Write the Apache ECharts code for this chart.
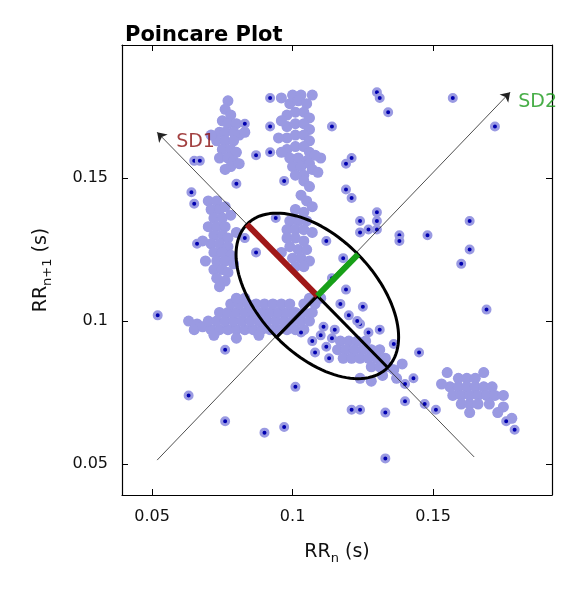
<!DOCTYPE html>
<html><head><meta charset="utf-8">
<script src="https://cdn.jsdelivr.net/npm/echarts@6/dist/echarts.min.js"></script>
<style>html,body{margin:0;padding:0;background:#fff}#c{width:580px;height:590px}</style>
</head><body><div id="c"></div>
<script>
const xTicks = [0.05, 0.1, 0.15];
const yTicks = [0.05, 0.1, 0.15];
const clusterA = [[0.077,0.177],[0.076,0.174],[0.078,0.172],[0.075,0.170],[0.077,0.169],[0.080,0.169],[0.074,0.166],[0.076,0.166],[0.079,0.166],[0.081,0.165],[0.073,0.163],[0.076,0.163],[0.079,0.163],[0.075,0.160],[0.078,0.160],[0.080,0.159],[0.074,0.157],[0.077,0.157],[0.079,0.156],[0.071,0.165],[0.083,0.166],[0.078,0.154],[0.081,0.155],[0.076,0.153]];
const clusterB = [[0.100,0.179],[0.103,0.179],[0.099,0.176],[0.102,0.177],[0.105,0.176],[0.098,0.172],[0.101,0.173],[0.104,0.173],[0.106,0.171],[0.098,0.168],[0.101,0.169],[0.104,0.169],[0.106,0.167],[0.098,0.164],[0.101,0.165],[0.104,0.165],[0.106,0.163],[0.098,0.160],[0.101,0.161],[0.104,0.161],[0.106,0.159],[0.099,0.157],[0.102,0.157],[0.105,0.156],[0.100,0.154],[0.103,0.154],[0.106,0.155],[0.096,0.178],[0.107,0.179],[0.096,0.170],[0.110,0.157],[0.108,0.158],[0.095,0.164],[0.096,0.159],[0.107,0.153],[0.109,0.152],[0.101,0.151],[0.104,0.151]];
const clusterC = [[0.070,0.142],[0.073,0.142],[0.071,0.139],[0.074,0.139],[0.076,0.140],[0.072,0.136],[0.075,0.136],[0.078,0.137],[0.070,0.133],[0.073,0.133],[0.076,0.133],[0.072,0.130],[0.075,0.130],[0.077,0.129],[0.071,0.127],[0.074,0.127],[0.077,0.126],[0.072,0.124],[0.075,0.124],[0.078,0.123],[0.073,0.121],[0.076,0.121],[0.072,0.118],[0.075,0.118],[0.077,0.117],[0.073,0.115],[0.076,0.114],[0.074,0.112],[0.068,0.128],[0.069,0.121],[0.080,0.131],[0.079,0.120]];
const clusterD = [[0.104,0.149],[0.106,0.147],[0.103,0.144],[0.105,0.142],[0.107,0.140],[0.101,0.139],[0.104,0.138],[0.099,0.135],[0.102,0.135],[0.105,0.135],[0.098,0.132],[0.101,0.132],[0.104,0.132],[0.107,0.131],[0.098,0.129],[0.101,0.129],[0.104,0.128],[0.099,0.126],[0.102,0.125],[0.105,0.125],[0.100,0.122],[0.103,0.122],[0.106,0.121],[0.101,0.119],[0.104,0.119],[0.096,0.124]];
const clusterE = [[0.063,0.100],[0.066,0.099],[0.065,0.097],[0.068,0.098],
[0.071,0.097],[0.074,0.097],[0.077,0.097],[0.080,0.097],[0.083,0.097],[0.086,0.097],[0.089,0.097],[0.092,0.097],[0.095,0.097],[0.098,0.097],[0.101,0.097],[0.104,0.097],
[0.070,0.100],[0.073,0.100],[0.076,0.100],[0.079,0.100],[0.082,0.100],[0.085,0.100],[0.088,0.100],[0.091,0.100],[0.094,0.100],[0.097,0.100],[0.100,0.100],[0.103,0.100],[0.106,0.100],
[0.074,0.103],[0.077,0.103],[0.080,0.103],[0.083,0.103],[0.086,0.103],[0.089,0.103],[0.092,0.103],[0.095,0.103],[0.098,0.103],[0.101,0.103],[0.104,0.103],[0.107,0.103],
[0.078,0.106],[0.081,0.106],[0.084,0.106],[0.087,0.106],[0.090,0.106],[0.093,0.106],[0.096,0.106],[0.099,0.106],[0.104,0.106],[0.108,0.106],
[0.080,0.108],[0.083,0.108],[0.106,0.108],[0.110,0.108],[0.072,0.095],[0.080,0.094],[0.088,0.095]];
const clusterF = [[0.117,0.093],[0.120,0.093],[0.123,0.093],[0.126,0.093],[0.116,0.090],[0.119,0.090],[0.122,0.090],[0.125,0.090],[0.128,0.090],[0.131,0.090],[0.118,0.087],[0.121,0.087],[0.124,0.087],[0.127,0.087],[0.130,0.087],[0.133,0.087],[0.128,0.084],[0.131,0.084],[0.134,0.084],[0.136,0.083],[0.139,0.085],[0.137,0.080],[0.132,0.081],[0.128,0.079],[0.124,0.080]];
const clusterG = [[0.159,0.080],[0.162,0.080],[0.165,0.080],[0.156,0.077],[0.159,0.077],[0.162,0.077],[0.165,0.077],[0.168,0.077],[0.171,0.077],[0.157,0.074],[0.160,0.074],[0.163,0.074],[0.166,0.074],[0.169,0.074],[0.172,0.074],[0.175,0.074],[0.160,0.071],[0.163,0.071],[0.166,0.071],[0.170,0.071],[0.153,0.078],[0.155,0.082],[0.168,0.082],[0.175,0.070],[0.173,0.068],[0.178,0.066],[0.163,0.068]];
const outliers = [[0.130,0.180],[0.131,0.178],[0.134,0.173],[0.157,0.178],[0.172,0.168],[0.121,0.157],[0.119,0.155],[0.119,0.146],[0.121,0.143],[0.130,0.138],[0.124,0.135],[0.130,0.135],[0.130,0.132],[0.127,0.132],[0.124,0.131],[0.138,0.130],[0.138,0.128],[0.148,0.130],[0.163,0.135],[0.163,0.125],[0.160,0.120],[0.169,0.104],[0.125,0.105],[0.124,0.099],[0.131,0.097],[0.136,0.092],[0.145,0.089],[0.143,0.080],[0.140,0.078],[0.124,0.069],[0.140,0.072],[0.147,0.071],[0.133,0.068],[0.121,0.069],[0.133,0.052],[0.176,0.065],[0.179,0.062],[0.151,0.069],
[0.052,0.102],[0.063,0.074],[0.076,0.090],[0.076,0.065],[0.090,0.061],[0.097,0.063],[0.101,0.077],[0.103,0.096],[0.107,0.093],[0.110,0.095],[0.112,0.091],[0.114,0.094],[0.108,0.089],[0.113,0.087],[0.115,0.097],[0.111,0.098],
[0.064,0.145],[0.065,0.141],[0.080,0.148],[0.087,0.158],[0.092,0.178],[0.092,0.168],[0.092,0.159],[0.097,0.149],[0.114,0.168],[0.065,0.156],[0.067,0.156],[0.083,0.169],[0.087,0.124],[0.083,0.129],[0.066,0.127],[0.094,0.136],
[0.117,0.106],[0.120,0.102],[0.123,0.100],[0.127,0.096],[0.119,0.111],[0.114,0.115],[0.118,0.122],[0.112,0.128]];
const center = [0.1088, 0.1088];
const SD1 = 0.0354, SD2 = 0.0205;

const clusters = [].concat(clusterA, clusterB, clusterC, clusterD, clusterE, clusterF, clusterG);
const r2 = Math.SQRT1_2;
const ell = [];
for (let i = 0; i <= 120; i++) {
  const t = i / 120 * 2 * Math.PI;
  const a = SD2 * Math.cos(t), b = SD1 * Math.sin(t);
  ell.push([center[0] + a * r2 - b * r2, center[1] + a * r2 + b * r2]);
}
const sd1End = [center[0] - SD1 * r2, center[1] + SD1 * r2];
const sd1Neg = [center[0] + SD1 * r2, center[1] - SD1 * r2];
const sd2End = [center[0] + SD2 * r2, center[1] + SD2 * r2];
const sd2Neg = [center[0] - SD2 * r2, center[1] - SD2 * r2];

const fmt = v => String(Math.round(v * 1000) / 1000);
const ch = echarts.init(document.getElementById('c'));
const axBase = {type: 'value', axisLine: {show: true, onZero: false, lineStyle: {color: '#000', width: 1.2}}, splitLine: {show: false}};
const rich = {a: {fontSize: 19, color: '#111', fontFamily: 'DejaVu Sans'}, s: {fontSize: 13, color: '#111', verticalAlign: 'bottom', padding: [12, 0, 0, 0], fontFamily: 'DejaVu Sans'}};
const dot = {color: '#0000b0', borderColor: '#9a9ae2', borderWidth: 3, opacity: 1};
ch.setOption({
  animation: false,
  title: {text: 'Poincare Plot', left: 120, top: 20, textStyle: {fontFamily: 'DejaVu Sans', fontSize: 21, fontWeight: 'bold', color: '#000'}},
  grid: {left: 122, right: 28, top: 45, bottom: 95},
  xAxis: [
    Object.assign({}, axBase, {min: 0.0393, max: 0.1923, position: 'bottom',
      axisTick: {inside: true, length: 6, customValues: xTicks, lineStyle: {color: '#000'}},
      axisLabel: {customValues: xTicks, formatter: fmt, fontSize: 16, color: '#111', margin: 14, fontFamily: 'DejaVu Sans'},
      name: '{a|RR}{s|n}{a| (s)}', nameLocation: 'middle', nameGap: 45, nameTextStyle: {rich: rich}}),
    Object.assign({}, axBase, {min: 0.0393, max: 0.1923, position: 'top',
      axisTick: {inside: true, length: 6, customValues: xTicks, lineStyle: {color: '#000'}}, axisLabel: {show: false}})
  ],
  yAxis: [
    Object.assign({}, axBase, {min: 0.0392, max: 0.1965, position: 'left',
      axisTick: {inside: true, length: 6, customValues: yTicks, lineStyle: {color: '#000'}},
      axisLabel: {customValues: yTicks, formatter: fmt, fontSize: 16, color: '#111', margin: 14, fontFamily: 'DejaVu Sans'},
      name: '{a|RR}{s|n+1}{a| (s)}', nameLocation: 'middle', nameGap: 68, nameRotate: 90, nameTextStyle: {rich: rich}}),
    Object.assign({}, axBase, {min: 0.0392, max: 0.1965, position: 'right',
      axisTick: {inside: true, length: 6, customValues: yTicks, lineStyle: {color: '#000'}}, axisLabel: {show: false}})
  ],
  series: [
    {type: 'scatter', data: clusters, symbolSize: 7, itemStyle: dot, z: 2},
    {type: 'scatter', data: clusters, symbolSize: 11, itemStyle: {color: '#9a9ae2', opacity: 1}, z: 2},
    {type: 'scatter', data: outliers, symbolSize: 7, itemStyle: dot, z: 2},
    {type: 'lines', coordinateSystem: 'cartesian2d', symbol: ['none', 'arrow'], symbolSize: 9, z: 3,
      lineStyle: {color: '#222', width: 0.8, opacity: 1},
      data: [{coords: [[0.0518, 0.0514], [0.1774, 0.180]]}, {coords: [[0.1646, 0.0525], [0.0518, 0.166]]}]},
    {type: 'line', data: ell, showSymbol: false, smooth: false, lineStyle: {color: '#000', width: 3}, z: 4},
    {type: 'line', data: [center, sd1Neg], showSymbol: false, lineStyle: {color: '#000', width: 3}, z: 4},
    {type: 'line', data: [center, sd2Neg], showSymbol: false, lineStyle: {color: '#000', width: 3}, z: 4},
    {type: 'line', data: [center, sd1End], showSymbol: false, lineStyle: {color: '#a01818', width: 6}, z: 5},
    {type: 'line', data: [center, sd2End], showSymbol: false, lineStyle: {color: '#18a018', width: 6}, z: 5},
    {type: 'scatter', symbolSize: 0, z: 6, data: [
      {value: [0.0568, 0.1625], label: {show: true, position: 'right', formatter: 'SD1', color: '#8b1010', fontSize: 19, fontFamily: 'DejaVu Sans'}},
      {value: [0.1785, 0.1765], label: {show: true, position: 'right', formatter: 'SD2', color: '#1a9a1a', fontSize: 19, fontFamily: 'DejaVu Sans'}}]}
  ]
});
</script></body></html>
